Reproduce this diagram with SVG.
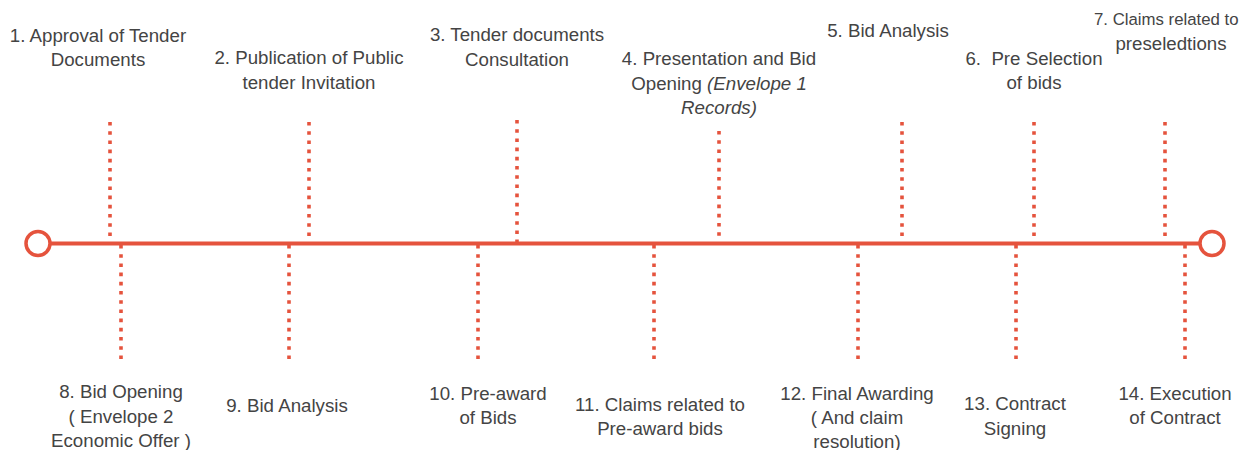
<svg xmlns="http://www.w3.org/2000/svg" width="1246" height="450" viewBox="0 0 1246 450">
<style>
.t{font-family:"Liberation Sans",Arial,sans-serif;font-size:18.7px;fill:#444;text-anchor:middle;white-space:pre}
.i{font-style:italic}
.axis{stroke:#e5533d;stroke-width:3.8;fill:none}
.dot{stroke:#e5533d;stroke-width:3.6;stroke-dasharray:3.6 5.6;fill:none}
.end{stroke:#e5533d;stroke-width:3.5;fill:#fff}
</style>
<rect width="1246" height="450" fill="#fff"/>
<g id="connectors">
<line class="axis" x1="51" y1="243.5" x2="1199" y2="243.5"/>
<line class="dot" x1="110" y1="122" x2="110" y2="240"/>
<line class="dot" x1="309" y1="122" x2="309" y2="240"/>
<line class="dot" x1="517" y1="120" x2="517" y2="242"/>
<line class="dot" x1="719" y1="131" x2="719" y2="240"/>
<line class="dot" x1="902" y1="122" x2="902" y2="240"/>
<line class="dot" x1="1034" y1="122" x2="1034" y2="240"/>
<line class="dot" x1="1165" y1="122" x2="1165" y2="240"/>
<line class="dot" x1="121" y1="245" x2="121" y2="361"/>
<line class="dot" x1="289" y1="245" x2="289" y2="361"/>
<line class="dot" x1="478" y1="245" x2="478" y2="361"/>
<line class="dot" x1="654" y1="245" x2="654" y2="361"/>
<line class="dot" x1="858" y1="245" x2="858" y2="361"/>
<line class="dot" x1="1016" y1="245" x2="1016" y2="361"/>
<line class="dot" x1="1185" y1="245" x2="1185" y2="361"/>
</g>
<g id="start"><circle class="end" cx="38" cy="243.5" r="12"/></g>
<g id="finish"><circle class="end" cx="1212" cy="243.5" r="12"/></g>
<g id="n1"><text class="t" x="98" y="42">1. Approval of Tender</text><text class="t" x="98" y="66">Documents</text></g>
<g id="n2"><text class="t" x="309" y="64">2. Publication of Public</text><text class="t" x="309" y="89">tender Invitation</text></g>
<g id="n3"><text class="t" x="517" y="41">3. Tender documents</text><text class="t" x="517" y="66">Consultation</text></g>
<g id="n4"><text class="t" x="719" y="65">4. Presentation and Bid</text><text class="t" x="719" y="90">Opening <tspan class="i">(Envelope 1</tspan></text><text class="t i" x="719" y="114">Records)</text></g>
<g id="n5"><text class="t" x="888" y="37">5. Bid Analysis</text></g>
<g id="n6"><text class="t" x="1034" y="65">6.  Pre Selection</text><text class="t" x="1034" y="89">of bids</text></g>
<g id="n7"><text class="t" x="1094" y="25" style="text-anchor:start;font-size:16.8px">7. Claims related to</text><text class="t" x="1171" y="50">preseledtions</text></g>
<g id="n8"><text class="t" x="121" y="398">8. Bid Opening</text><text class="t" x="121" y="423">( Envelope 2</text><text class="t" x="121" y="447">Economic Offer )</text></g>
<g id="n9"><text class="t" x="287" y="412">9. Bid Analysis</text></g>
<g id="n10"><text class="t" x="488" y="400">10. Pre-award</text><text class="t" x="488" y="424">of Bids</text></g>
<g id="n11"><text class="t" x="660" y="411">11. Claims related to</text><text class="t" x="660" y="435">Pre-award bids</text></g>
<g id="n12"><text class="t" x="857" y="400">12. Final Awarding</text><text class="t" x="857" y="424">( And claim</text><text class="t" x="857" y="448">resolution)</text></g>
<g id="n13"><text class="t" x="1015" y="410">13. Contract</text><text class="t" x="1015" y="435">Signing</text></g>
<g id="n14"><text class="t" x="1175" y="400">14. Execution</text><text class="t" x="1175" y="424">of Contract</text></g>
</svg>
